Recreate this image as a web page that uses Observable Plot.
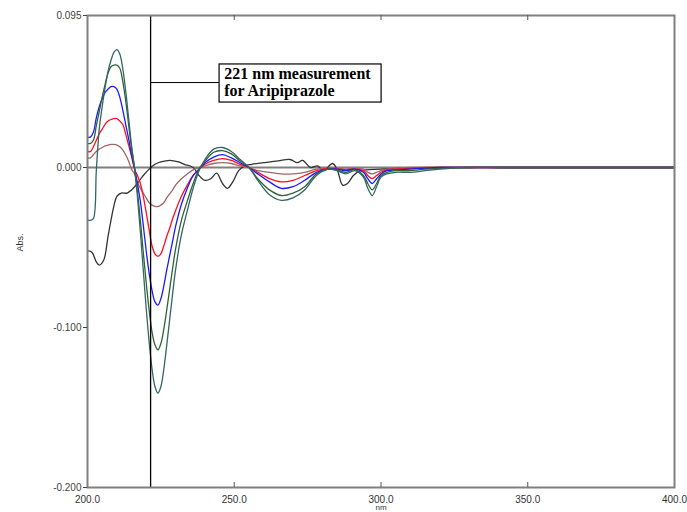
<!DOCTYPE html>
<html>
<head>
<meta charset="utf-8">
<script src="https://cdn.jsdelivr.net/npm/d3@7"></script>
<script src="https://cdn.jsdelivr.net/npm/@observablehq/plot@0.6"></script>
<style>
  html, body { margin: 0; padding: 0; background: #fff; }
  #chart svg { display: block; }
</style>
</head>
<body>
<div id="chart"></div>
<script>
// wavelength grid (nm) for the derivative spectra
const nm = [200,201,202,203,204,205,206,207,208,209,210,211,212,213,214,215,216,217,218,219,220,221,222,223,224,225,226,227,228,229,230,
  232,234,236,238,240,243,246,249,252,255,258,262,266,270,274,278,282,285,288,291,294,295.5,297,298.5,300,302,305,310,315,320,330,340,360,380,400];

const teal = [-0.033,-0.033,-0.032,-0.002,0.024,0.038,0.050,0.060,0.067,0.072,0.0737,0.071,0.062,0.048,0.031,0.014,0.000,
  -0.018,-0.040,-0.064,-0.088,-0.109,-0.126,-0.137,-0.141,-0.137,-0.126,-0.111,-0.095,-0.079,-0.064,
  -0.042,-0.027,-0.013,-0.002,0.005,0.0115,0.0125,0.010,0.005,0.000,-0.008,-0.017,-0.0205,-0.019,-0.014,-0.005,-0.001,-0.002,-0.004,-0.002,-0.006,-0.013,-0.0175,-0.012,-0.006,-0.004,-0.003,-0.003,-0.002,-0.001,0,0,0,0,0];

const green = [0.015,0.015,0.017,0.026,0.035,0.044,0.052,0.059,0.063,0.064,0.064,0.062,0.054,0.042,0.027,0.012,0.000,
  -0.015,-0.033,-0.053,-0.072,-0.089,-0.103,-0.111,-0.114,-0.110,-0.101,-0.089,-0.076,-0.063,-0.051,
  -0.033,-0.021,-0.010,-0.001,0.004,0.0095,0.0106,0.0085,0.004,0.000,-0.007,-0.014,-0.0175,-0.016,-0.012,-0.004,-0.001,-0.0015,-0.003,-0.0015,-0.005,-0.010,-0.014,-0.010,-0.005,-0.003,-0.002,-0.002,-0.001,-0.0005,0,0,0,0,0];

const blue = [0.019,0.019,0.022,0.031,0.038,0.043,0.047,0.049,0.0505,0.0506,0.049,0.044,0.036,0.027,0.018,0.008,0.000,
  -0.010,-0.021,-0.036,-0.052,-0.066,-0.077,-0.084,-0.086,-0.082,-0.074,-0.064,-0.055,-0.046,-0.037,
  -0.023,-0.013,-0.005,-0.001,0.003,0.0065,0.008,0.006,0.003,0.000,-0.004,-0.009,-0.013,-0.012,-0.008,-0.003,-0.001,-0.001,-0.002,-0.001,-0.003,-0.007,-0.010,-0.007,-0.004,-0.002,-0.0015,-0.001,-0.0005,0,0,0,0,0,0];

const red = [0.010,0.010,0.013,0.017,0.021,0.024,0.027,0.029,0.030,0.0306,0.0305,0.029,0.027,0.021,0.014,0.007,-0.001,
  -0.005,-0.010,-0.018,-0.028,-0.039,-0.049,-0.054,-0.0556,-0.054,-0.049,-0.043,-0.038,-0.032,-0.027,
  -0.018,-0.011,-0.005,-0.001,0.002,0.0045,0.0056,0.0045,0.002,0.000,-0.003,-0.007,-0.009,-0.008,-0.005,-0.002,-0.0005,-0.001,-0.0015,-0.001,-0.002,-0.005,-0.007,-0.005,-0.003,-0.0015,-0.001,-0.0005,0,0,0,0,0,0,0];

const brown = [0.006,0.006,0.008,0.010,0.0115,0.0125,0.0135,0.014,0.0144,0.0144,0.014,0.013,0.011,0.008,0.004,-0.001,-0.004,
  -0.009,-0.013,-0.016,-0.019,-0.022,-0.0235,-0.0243,-0.0244,-0.0235,-0.022,-0.019,-0.0165,-0.014,-0.011,
  -0.007,-0.004,-0.0015,0.000,0.001,0.0025,0.003,0.0025,0.001,0.000,-0.002,-0.003,-0.004,-0.004,-0.003,-0.001,-0.0005,-0.0005,-0.001,-0.0005,-0.001,-0.003,-0.004,-0.003,-0.002,-0.001,-0.0005,0,0,0,0,0,0,0,0];

// black trace on its own grid
const nmBlack = [200,201.5,203,204,205.5,207,208,209,210,211.5,213.5,215,217,219,221,223,225,228,231,233,236,238,240,242,244,246,247.7,249.5,251.5,253.5,256,260,265,269,271.5,273.3,276,278.4,280.4,283.5,285.2,286.9,288.6,290.6,293,300,310,320,340,360,380,400];
const black = [-0.052,-0.053,-0.059,-0.061,-0.058,-0.043,-0.033,-0.024,-0.018,-0.016,-0.016,-0.014,-0.010,-0.005,-0.001,0.002,0.0035,0.0045,0.0035,0.002,0.000,-0.005,-0.008,-0.007,-0.0035,-0.010,-0.013,-0.009,-0.002,0.001,0.002,0.003,0.0042,0.005,0.003,0.0044,0.000,0.001,-0.002,0.0025,-0.002,-0.011,-0.010,-0.005,-0.002,-0.001,-0.0005,0,0,0,0,0];

const xTicks = [200, 250, 300, 350, 400];
const yTicks = [0.095, 0, -0.1, -0.2];
const measureNm = 221.5;
const annotationLines = ["221 nm measurement", "for Aripiprazole"];

const colored = [
  {values: black, x: nmBlack, color: "#333333"},
  {values: brown, x: nm, color: "#a06666"},
  {values: red, x: nm, color: "#ff1020"},
  {values: blue, x: nm, color: "#1a1aff"},
  {values: green, x: nm, color: "#2f6236"},
  {values: teal, x: nm, color: "#336666"}
];

const lineMarks = colored.map(s =>
  Plot.line(s.values.map((v, i) => ({x: s.x[i], y: v})), {
    x: "x", y: "y", stroke: s.color, strokeWidth: 1.3, curve: "catmull-rom"
  })
);

const pxY = 1 / 1600; // one pixel in absorbance units (for tick lengths)
const innerTicks = [250, 300, 350];

const plot = Plot.plot({
  width: 687,
  height: 512,
  marginLeft: 87,
  marginRight: 13,
  marginTop: 15,
  marginBottom: 25,
  style: {background: "#fff", fontFamily: "'Liberation Sans', Arial, sans-serif", overflow: "visible"},
  x: {domain: [200, 400]},
  y: {domain: [-0.2, 0.095]},
  marks: [
    Plot.ruleY([0], {stroke: "#808080", strokeWidth: 2.2}),
    ...lineMarks,
    Plot.ruleX([measureNm], {stroke: "#000", strokeWidth: 1.3}),
    // annotation connector and box
    Plot.ruleY([0.0531], {x1: measureNm, x2: 245, stroke: "#000", strokeWidth: 1}),
    Plot.rect([0], {x1: 245, x2: 300.2, y1: 0.0406, y2: 0.0644, fill: "#fff", stroke: "#000", strokeWidth: 1.2}),
    Plot.text(annotationLines, {x: 246.6, y: (d, i) => 0.0644 - (3 + i * 17) * pxY, textAnchor: "start", lineAnchor: "top",
      fontFamily: "'Liberation Serif', 'Times New Roman', serif", fontWeight: "bold", fontSize: 16, fill: "#000"}),
    // frame
    Plot.frame({stroke: "#808080", strokeWidth: 2}),
    // inner tick marks along bottom and top
    Plot.ruleX(innerTicks, {y1: -0.2, y2: -0.2 + 5 * pxY, stroke: "#555", strokeWidth: 1}),
    Plot.ruleX(innerTicks, {y1: 0.095, y2: 0.095 - 5 * pxY, stroke: "#555", strokeWidth: 1}),
    Plot.axisY({ticks: yTicks, tickFormat: d => d.toFixed(3), tickSize: 4, tickPadding: 2, fontSize: 10, color: "#444", label: null}),
    Plot.axisX({ticks: xTicks, tickFormat: d => d.toFixed(1), tickSize: 0, tickPadding: 8, fontSize: 10, color: "#333", label: null}),
    Plot.text(["Abs."], {frameAnchor: "left", dx: -67, rotate: -90, fontSize: 9, fill: "#333"}),
    Plot.text(["nm"], {x: 300, frameAnchor: "bottom", dy: 17, lineAnchor: "top", fontSize: 8, fill: "#333"})
  ]
});

document.getElementById("chart").appendChild(plot);
</script>
</body>
</html>
